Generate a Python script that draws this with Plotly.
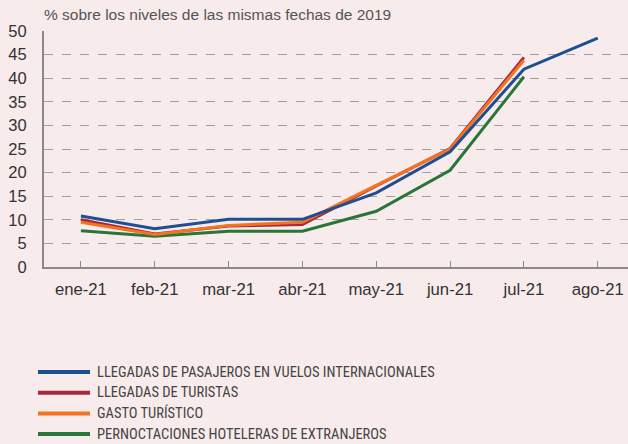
import plotly.graph_objects as go

months = ["ene-21", "feb-21", "mar-21", "abr-21", "may-21", "jun-21", "jul-21", "ago-21"]
series_names = [
    "LLEGADAS DE PASAJEROS EN VUELOS INTERNACIONALES",
    "LLEGADAS DE TURISTAS",
    "GASTO TURÍSTICO",
    "PERNOCTACIONES HOTELERAS DE EXTRANJEROS",
]
pasajeros = [10.8, 8.1, 10.1, 10.1, 15.7, 24.4, 41.9, 48.5]
turistas = [10.0, 7.0, 8.7, 9.0, 17.2, 25.1, 44.4, None]
gasto = [9.5, 6.9, 8.8, 9.5, 17.3, 25.0, 43.8, None]
pernoctaciones = [7.7, 6.5, 7.6, 7.6, 11.8, 20.5, 40.3, None]
series_values = [pasajeros, turistas, gasto, pernoctaciones]
colors = ["#1d4f91", "#a3293f", "#f47320", "#2a7539"]
yticks = [0, 5, 10, 15, 20, 25, 30, 35, 40, 45, 50]
title_text = "% sobre los niveles de las mismas fechas de 2019"

bg = "#f8ebeb"
W, H = 628, 444
L, R, T, B = 44, 0, 31, 177
PW, PH = W - L - R, H - T - B

fig = go.Figure()
order = [3, 1, 2, 0]
for i in order:
    fig.add_trace(go.Scatter(
        x=list(range(len(months))), y=series_values[i], mode="lines",
        line=dict(color=colors[i], width=3), name=series_names[i],
        showlegend=False, connectgaps=False,
    ))

def px_x(x):
    return (x - L) / PW

def px_y(y):
    return (H - B - y) / PH

# custom legend
leg_y0 = 372
leg_dy = 20.7
for i, name in enumerate(series_names):
    yy = px_y(leg_y0 + i * leg_dy)
    fig.add_shape(type="line", xref="paper", yref="paper",
                  x0=px_x(38), x1=px_x(90), y0=yy, y1=yy,
                  line=dict(color=colors[i], width=4))
    fig.add_annotation(xref="paper", yref="paper", x=px_x(95), y=yy,
                       text=name, showarrow=False, xanchor="left", yanchor="middle",
                       font=dict(family="Liberation Sans Narrow, Roboto Condensed, Liberation Sans",
                                 size=14.5, color="#444"))

fig.add_annotation(xref="paper", yref="paper", x=px_x(42), y=px_y(15), text=title_text,
                   showarrow=False, xanchor="left", yanchor="middle",
                   font=dict(family="Liberation Sans, Arial", size=15.5, color="#555"))

fig.update_layout(
    width=W, height=H,
    margin=dict(l=L, r=R, t=T, b=B),
    paper_bgcolor=bg, plot_bgcolor=bg,
    font=dict(family="Liberation Sans, Arial", size=16.7, color="#333"),
    xaxis=dict(
        tickmode="array", tickvals=list(range(len(months))), ticktext=months,
        range=[-0.5, 7.41], showgrid=False, zeroline=False,
        showline=True, linecolor="#8a8a8a", linewidth=2,
        ticks="inside", tickson="boundaries", ticklen=6, tickcolor="#8a8a8a", tickwidth=1,
        ticklabelstandoff=6,
    ),
    yaxis=dict(
        tickmode="array", tickvals=yticks, range=[0, 50],
        showgrid=True, gridcolor="#a0a0a0", griddash="dash", gridwidth=1,
        zeroline=False, showline=True, linecolor="#8a8a8a", linewidth=2,
        ticks="", ticklabelstandoff=12, tickfont=dict(size=16.5),
    ),
)
fig.write_html(
    "out.html",
    config={"displayModeBar": False},
    post_script="document.body.style.margin='0';document.body.style.background='%s';" % bg,
)
